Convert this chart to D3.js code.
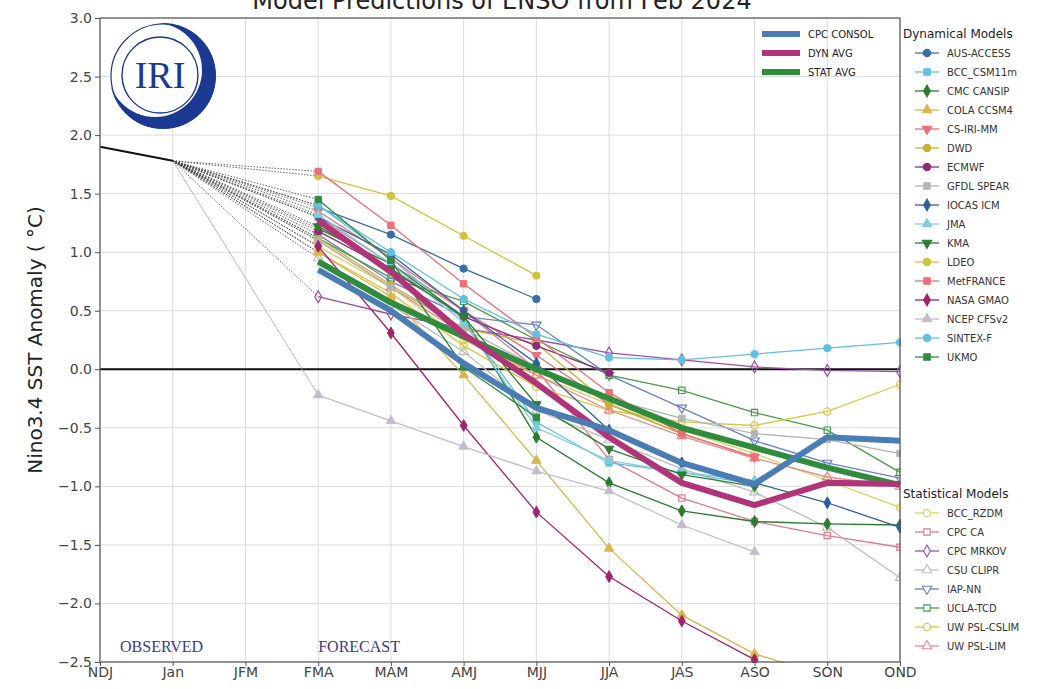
<!DOCTYPE html>
<html>
<head>
<meta charset="utf-8">
<script src="https://cdn.jsdelivr.net/npm/d3@7"></script>
<style>
  body { margin: 0; background: #fff; }
  svg { font-family: "DejaVu Sans", sans-serif; }
</style>
</head>
<body>
<svg id="chart" width="1039" height="689"></svg>
<script>
// seasons on the x axis
const seasons = ["NDJ", "Jan", "JFM", "FMA", "MAM", "AMJ", "MJJ", "JJA", "JAS", "ASO", "SON", "OND"];
const fcSeasons = ["FMA", "MAM", "AMJ", "MJJ", "JJA", "JAS", "ASO", "SON", "OND"];
const yTicks = [3.0, 2.5, 2.0, 1.5, 1.0, 0.5, 0.0, -0.5, -1.0, -1.5, -2.0, -2.5];

const observed = [1.9, 1.78]; // NDJ, Jan

// dynamical models (FMA..OND)
const ausAccess = [1.38, 1.15, 0.86, 0.6, null, null, null, null, null];
const bccCsm = [1.40, 0.95, 0.42, -0.45, -0.8, -0.88, -0.98, null, null];
const cmcCansip = [1.2, 0.9, 0.45, -0.58, -0.97, -1.21, -1.3, -1.32, -1.33];
const colaCcsm4 = [1.0, 0.62, -0.05, -0.78, -1.53, -2.1, -2.43, -2.62, null];
const csIriMm = [1.35, 0.95, 0.5, 0.12, -0.3, -0.55, -0.75, null, null];
const dwd = [1.12, 0.72, 0.35, 0.22, -0.3, -0.55, null, null, null];
const ecmwf = [1.18, 0.85, 0.45, 0.2, -0.03, null, null, null, null];
const gfdlSpear = [1.1, 0.7, 0.35, 0.02, -0.25, -0.42, -0.55, -0.6, -0.72];
const iocasIcm = [1.3, 0.98, 0.5, 0.05, -0.52, -0.8, -0.97, -1.14, -1.35];
const jma = [1.32, 0.9, 0.4, -0.5, -0.78, -0.88, -0.95, null, null];
const kma = [1.22, 0.86, 0.45, -0.3, -0.68, -0.9, -1.0, null, null];
const ldeo = [1.65, 1.48, 1.14, 0.8, null, null, null, null, null];
const metFrance = [1.69, 1.23, 0.73, 0.27, -0.2, -0.55, -0.75, null, null];
const nasaGmao = [1.05, 0.31, -0.48, -1.22, -1.77, -2.15, -2.48, null, null];
const ncepCfs = [-0.22, -0.44, -0.66, -0.87, -1.04, -1.33, -1.56, null, null];
const sintexF = [1.4, 1.0, 0.6, 0.3, 0.1, 0.08, 0.13, 0.18, 0.23];
const ukmo = [1.45, 0.93, 0.02, -0.41, null, null, null, null, null];

// statistical models
const bccRzdm = [1.05, 0.7, 0.25, -0.05, -0.3, -0.52, -0.72, -0.95, -1.18];
const cpcCa = [1.3, 0.9, 0.5, 0.0, -0.77, -1.1, -1.3, -1.42, -1.52];
const cpcMrkov = [0.62, 0.47, 0.35, 0.25, 0.14, 0.08, 0.02, -0.01, -0.02];
const csuClipr = [0.95, 0.55, 0.15, -0.35, -0.6, -0.85, -1.05, -1.35, -1.78];
const iapNn = [1.15, 0.75, 0.45, 0.38, -0.05, -0.33, -0.61, -0.8, -0.93];
const uclaTcd = [1.12, 0.78, 0.58, 0.25, -0.05, -0.18, -0.37, -0.52, -0.88];
const uwCslim = [1.0, 0.65, 0.2, -0.15, -0.35, -0.45, -0.48, -0.36, -0.13];
const uwLim = [1.1, 0.7, 0.3, -0.05, -0.35, -0.57, -0.76, -0.92, -1.0];

// averages
const cpcConsol = [0.85, 0.5, 0.05, -0.33, -0.52, -0.8, -0.98, -0.58, -0.61];
const dynAvg = [1.27, 0.83, 0.3, -0.12, -0.58, -0.97, -1.16, -0.97, -0.98];
const statAvg = [0.92, 0.57, 0.28, 0.0, -0.25, -0.5, -0.67, -0.84, -0.99];

const dynModels = [
  { name: "AUS-ACCESS", values: ausAccess, color: "#3b6ea6", shape: "circle" },
  { name: "BCC_CSM11m", values: bccCsm, color: "#5cc3e0", shape: "square" },
  { name: "CMC CANSIP", values: cmcCansip, color: "#2a7d2e", shape: "diamond" },
  { name: "COLA CCSM4", values: colaCcsm4, color: "#d9b64a", shape: "triangle" },
  { name: "CS-IRI-MM", values: csIriMm, color: "#e8707e", shape: "tridown" },
  { name: "DWD", values: dwd, color: "#c5b232", shape: "circle" },
  { name: "ECMWF", values: ecmwf, color: "#8e2a7d", shape: "circle" },
  { name: "GFDL SPEAR", values: gfdlSpear, color: "#b4b4b4", shape: "square" },
  { name: "IOCAS ICM", values: iocasIcm, color: "#30609c", shape: "diamond" },
  { name: "JMA", values: jma, color: "#80ccd8", shape: "triangle" },
  { name: "KMA", values: kma, color: "#2e7d32", shape: "tridown" },
  { name: "LDEO", values: ldeo, color: "#cfc23c", shape: "circle" },
  { name: "MetFRANCE", values: metFrance, color: "#ea6f78", shape: "square" },
  { name: "NASA GMAO", values: nasaGmao, color: "#a3236d", shape: "diamond" },
  { name: "NCEP CFSv2", values: ncepCfs, color: "#c4bccc", shape: "triangle" },
  { name: "SINTEX-F", values: sintexF, color: "#62bfe0", shape: "circle" },
  { name: "UKMO", values: ukmo, color: "#2e8b3e", shape: "square" }
];

const statModels = [
  { name: "BCC_RZDM", values: bccRzdm, color: "#dccf58", shape: "circle" },
  { name: "CPC CA", values: cpcCa, color: "#e07a90", shape: "square" },
  { name: "CPC MRKOV", values: cpcMrkov, color: "#9b4fa8", shape: "diamond" },
  { name: "CSU CLIPR", values: csuClipr, color: "#bdbdbd", shape: "triangle" },
  { name: "IAP-NN", values: iapNn, color: "#6a80c8", shape: "tridown" },
  { name: "UCLA-TCD", values: uclaTcd, color: "#4a9a4a", shape: "square" },
  { name: "UW PSL-CSLIM", values: uwCslim, color: "#d8c848", shape: "circle" },
  { name: "UW PSL-LIM", values: uwLim, color: "#e98a8a", shape: "triangle" }
];

const averages = [
  { name: "CPC CONSOL", values: cpcConsol, color: "#4a7db4" },
  { name: "DYN AVG", values: dynAvg, color: "#b23478" },
  { name: "STAT AVG", values: statAvg, color: "#2f8c3c" }
];

const margin = { top: 18, right: 139, bottom: 27, left: 100 };
const width = 1039, height = 689;
const innerWidth = width - margin.left - margin.right;
const innerHeight = height - margin.top - margin.bottom;

const svg = d3.select("#chart");

const x = d3.scalePoint().domain(seasons).range([0, innerWidth]);
const y = d3.scaleLinear().domain([-2.5, 3.0]).range([innerHeight, 0]);

const g = svg.append("g").attr("transform", `translate(${margin.left},${margin.top})`);

g.append("defs").append("clipPath").attr("id", "plotclip")
  .append("rect").attr("x", -1).attr("y", -1).attr("width", innerWidth + 2).attr("height", innerHeight + 2);

// grid
g.append("g").selectAll("line").data(seasons).join("line")
  .attr("x1", d => x(d)).attr("x2", d => x(d))
  .attr("y1", 0).attr("y2", innerHeight)
  .attr("stroke", "#dcdcdc").attr("stroke-width", 1);
g.append("g").selectAll("line").data(yTicks).join("line")
  .attr("x1", 0).attr("x2", innerWidth)
  .attr("y1", d => y(d)).attr("y2", d => y(d))
  .attr("stroke", "#dcdcdc").attr("stroke-width", 1);

// axes
const fmt = d => d3.format(".1f")(d).replace("-", "\u2212");
g.append("g").attr("class", "y-axis")
  .call(d3.axisLeft(y).tickValues(yTicks).tickFormat(fmt).tickSize(5))
  .call(a => a.select(".domain").remove())
  .call(a => a.selectAll("text").style("font-family", "DejaVu Sans, sans-serif").attr("font-size", 14).attr("fill", "#444"));
g.append("g").attr("class", "x-axis")
  .attr("transform", `translate(0,${innerHeight})`)
  .call(d3.axisBottom(x).tickSize(4))
  .call(a => a.select(".domain").remove())
  .call(a => a.selectAll("text").style("font-family", "DejaVu Sans, sans-serif").attr("font-size", 14).attr("fill", "#444").attr("dy", "0.6em"));
g.selectAll(".tick line").attr("stroke", "#555");

const plot = g.append("g").attr("clip-path", "url(#plotclip)");

// zero line
plot.append("line")
  .attr("x1", 0).attr("x2", innerWidth)
  .attr("y1", y(0)).attr("y2", y(0))
  .attr("stroke", "#111").attr("stroke-width", 2.2);

// connectors from last observation to first forecast
const allModels = dynModels.concat(statModels);
plot.append("g").selectAll("line").data(allModels).join("line")
  .attr("x1", x("Jan")).attr("y1", y(observed[1]))
  .attr("x2", x("FMA")).attr("y2", d => y(d.values[0]))
  .attr("stroke", d => d.name === "NCEP CFSv2" ? "#aaa" : "#444")
  .attr("stroke-width", 0.8)
  .attr("stroke-dasharray", d => d.name === "NCEP CFSv2" ? null : "1.5,1.5");

// observed
plot.append("path")
  .datum(observed)
  .attr("fill", "none").attr("stroke", "#111").attr("stroke-width", 2)
  .attr("d", d3.line().x((d, i) => x(seasons[i])).y(d => y(d)));

const toPoints = vals => vals.map((v, i) => ({ s: fcSeasons[i], v })).filter(p => p.v !== null);
const line = d3.line().x(p => x(p.s)).y(p => y(p.v));

const symbolOf = {
  circle: d3.symbol(d3.symbolCircle, 42),
  square: d3.symbol(d3.symbolSquare, 40),
  diamond: d3.symbol(d3.symbolDiamond, 40),
  triangle: d3.symbol(d3.symbolTriangle, 38),
  tridown: d3.symbol(d3.symbolTriangle, 38)
};

function drawModel(m, hollow) {
  const pts = toPoints(m.values);
  const grp = plot.append("g");
  grp.append("path").datum(pts)
    .attr("fill", "none").attr("stroke", m.color).attr("stroke-width", 1.3)
    .attr("d", line);
  grp.selectAll("path.mk").data(pts).join("path")
    .attr("class", "mk")
    .attr("d", symbolOf[m.shape]())
    .attr("transform", p => `translate(${x(p.s)},${y(p.v)})` + (m.shape === "tridown" ? " rotate(180)" : ""))
    .attr("fill", hollow ? "none" : m.color)
    .attr("stroke", m.color)
    .attr("stroke-width", hollow ? 1.2 : 1);
}
statModels.forEach(m => drawModel(m, true));
dynModels.forEach(m => drawModel(m, false));

// averages
averages.slice().reverse().forEach(a => {
  plot.append("path").datum(toPoints(a.values))
    .attr("fill", "none").attr("stroke", a.color).attr("stroke-width", 6)
    .attr("stroke-linejoin", "round")
    .attr("d", line);
});

// frame
g.append("rect").attr("width", innerWidth).attr("height", innerHeight)
  .attr("fill", "none").attr("stroke", "#555").attr("stroke-width", 1.2);

// labels inside plot
const serif = "Liberation Serif, DejaVu Serif, serif";
g.append("text").attr("x", 20).attr("y", innerHeight - 10)
  .style("font-family", serif).attr("font-size", 16)
  .attr("fill", "#3a3a8c").text("OBSERVED");
g.append("text").attr("x", x("FMA")).attr("y", innerHeight - 10)
  .style("font-family", serif).attr("font-size", 16)
  .attr("fill", "#3a3a8c").text("FORECAST");

// title and y label
svg.append("text").attr("x", 502).attr("y", 9).attr("text-anchor", "middle")
  .attr("font-size", 24).attr("fill", "#222").text("Model Predictions of ENSO from Feb 2024");
svg.append("text").attr("transform", `translate(42,${margin.top + innerHeight / 2}) rotate(-90)`)
  .attr("text-anchor", "middle").attr("font-size", 20).attr("fill", "#222")
  .text("Nino3.4 SST Anomaly ( \u00B0C)");

// IRI logo
const logo = svg.append("g").attr("transform", "translate(163,76)");
logo.append("circle").attr("r", 53).attr("fill", "#1b3990");
logo.append("circle").attr("cx", -8).attr("cy", -6).attr("r", 47).attr("fill", "#fff");
logo.append("circle").attr("r", 52).attr("fill", "none").attr("stroke", "#1b3990").attr("stroke-width", 1.2);
logo.append("circle").attr("cx", -3).attr("cy", -1).attr("r", 38).attr("fill", "none").attr("stroke", "#1b3990").attr("stroke-width", 1.4);
logo.append("text").attr("x", -3).attr("y", 12).attr("text-anchor", "middle")
  .style("font-family", serif).attr("font-size", 38).attr("fill", "#1b3990").text("IRI");

// average legend
const avgLeg = svg.append("g").attr("transform", "translate(762,34)");
averages.forEach((a, i) => {
  const row = avgLeg.append("g").attr("transform", `translate(0,${i * 19})`);
  row.append("line").attr("x1", 0).attr("x2", 38).attr("stroke", a.color).attr("stroke-width", 6);
  row.append("text").attr("x", 46).attr("y", 4).attr("font-size", 10).attr("fill", "#222").text(a.name);
});

// model legends
function drawLegend(title, models, top, hollow) {
  const leg = svg.append("g").attr("transform", `translate(903,${top})`);
  leg.append("text").attr("x", 0).attr("y", 4).attr("font-size", 12).attr("fill", "#222").text(title);
  models.forEach((m, i) => {
    const row = leg.append("g").attr("transform", `translate(0,${19 + i * 19})`);
    row.append("line").attr("x1", 12).attr("x2", 36).attr("stroke", m.color).attr("stroke-width", 1.3);
    row.append("path").attr("d", symbolOf[m.shape]())
      .attr("transform", "translate(24,0)" + (m.shape === "tridown" ? " rotate(180)" : ""))
      .attr("fill", hollow ? "#fff" : m.color).attr("stroke", m.color).attr("stroke-width", 1.1);
    row.append("text").attr("x", 44).attr("y", 4).attr("font-size", 10).attr("fill", "#333").text(m.name);
  });
}
drawLegend("Dynamical Models", dynModels, 34, false);
drawLegend("Statistical Models", statModels, 494, true);
</script>
</body>
</html>
